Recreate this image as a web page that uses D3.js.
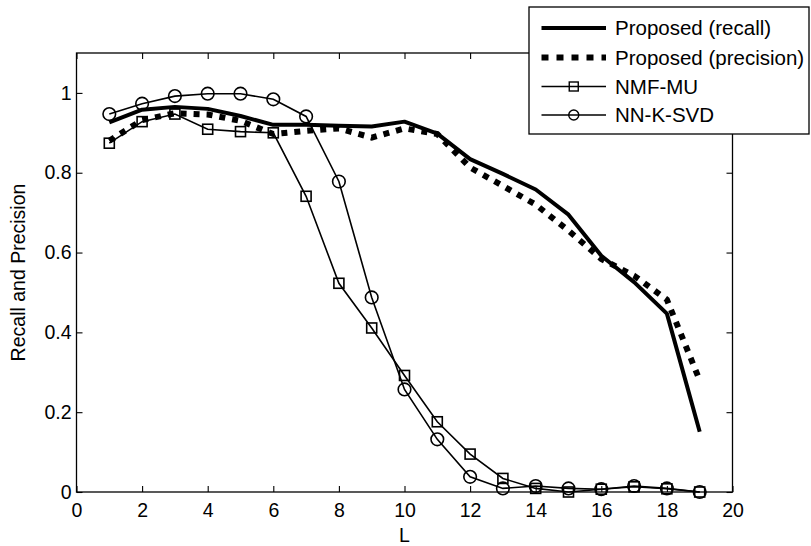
<!DOCTYPE html>
<html>
<head>
<meta charset="utf-8">
<script src="https://cdn.jsdelivr.net/npm/d3@7"></script>
<style>
  body { margin: 0; background: #fff; }
  text { font-family: "Liberation Sans", Arial, sans-serif; fill: #000; }
</style>
</head>
<body>
<div id="graf"></div>
<script>
// Datos
const L = [1, 2, 3, 4, 5, 6, 7, 8, 9, 10, 11, 12, 13, 14, 15, 16, 17, 18, 19]
const recall = [0.926, 0.958, 0.965, 0.96, 0.942, 0.92, 0.92, 0.918, 0.916, 0.928, 0.898, 0.834, 0.797, 0.758, 0.695, 0.592, 0.526, 0.447, 0.151]
const precision = [0.88, 0.932, 0.949, 0.946, 0.93, 0.897, 0.905, 0.911, 0.888, 0.911, 0.897, 0.813, 0.767, 0.72, 0.655, 0.584, 0.542, 0.482, 0.28]
const nmfmu = [0.874, 0.928, 0.947, 0.909, 0.903, 0.9, 0.741, 0.523, 0.411, 0.292, 0.176, 0.095, 0.034, 0.009, 0.0, 0.007, 0.013, 0.008, 0.0]
const nnksvd = [0.947, 0.973, 0.992, 0.998, 0.998, 0.984, 0.941, 0.778, 0.4875, 0.257, 0.132, 0.038, 0.009, 0.015, 0.009, 0.007, 0.015, 0.009, 0.0]
const xTicks = [0, 2, 4, 6, 8, 10, 12, 14, 16, 18, 20]
const yTicks = [0, 0.2, 0.4, 0.6, 0.8, 1]
const legendLabels = ['Proposed (recall)', 'Proposed (precision)', 'NMF-MU', 'NN-K-SVD']

// Dimensiones
const anchoTotal = 811
const altoTotal = 546
const margins = { top: 53, right: 79, bottom: 54, left: 76.5 }
const ancho = 732.5 - margins.left
const alto = 492 - margins.top
const fs = '19.5px'

const svg = d3.select('#graf').append('svg')
    .attr('width', anchoTotal)
    .attr('height', altoTotal)

const g = svg.append('g')
    .attr('transform', `translate(${margins.left}, ${margins.top})`)

// Escaladores
const x = d3.scaleLinear().domain([0, 20]).range([0, ancho])
const y = d3.scaleLinear().domain([0, 1.1]).range([alto, 0])

// Marco
g.append('rect')
    .attr('width', ancho)
    .attr('height', alto)
    .attr('fill', 'none')
    .attr('stroke', '#000')
    .attr('stroke-width', 1.3)

// Ejes (ticks hacia dentro)
const tk = 6
const xAxis = g.append('g').attr('transform', `translate(0, ${alto})`)
    .call(d3.axisBottom(x).tickValues(xTicks).tickFormat(d3.format('d')).tickSizeInner(-tk).tickSizeOuter(0).tickPadding(11))
const xTop = g.append('g')
    .call(d3.axisTop(x).tickValues(xTicks).tickFormat('').tickSizeInner(-tk).tickSizeOuter(0))
const yAxis = g.append('g')
    .call(d3.axisLeft(y).tickValues(yTicks).tickFormat(d => d === 0 || d === 1 ? d : d3.format('.1f')(d)).tickSizeInner(-tk).tickSizeOuter(0).tickPadding(5))
const yRight = g.append('g').attr('transform', `translate(${ancho}, 0)`)
    .call(d3.axisRight(y).tickValues(yTicks).tickFormat('').tickSizeInner(-tk).tickSizeOuter(0))

for (const ax of [xAxis, xTop, yAxis, yRight]) {
    ax.select('.domain').remove()
    ax.selectAll('line').attr('stroke', '#000').attr('stroke-width', 1.1)
    ax.selectAll('text').style('font-family', '"Liberation Sans", Arial, sans-serif').style('font-size', fs).attr('fill', '#000')
}
xAxis.selectAll('text').attr('dy', '0.71em')

// Titulos de ejes
g.append('text')
    .attr('x', ancho / 2)
    .attr('y', alto + 50)
    .attr('text-anchor', 'middle')
    .style('font-size', fs)
    .text('L')

g.append('text')
    .attr('transform', `translate(${18 - margins.left}, ${alto / 2}) rotate(-90)`)
    .attr('text-anchor', 'middle')
    .attr('dy', '0.35em')
    .style('font-size', fs)
    .text('Recall and Precision')

// Lineas
const line = (vals) => d3.line().x((d, i) => x(L[i])).y((d) => y(d))(vals)

g.append('path').attr('d', line(nmfmu))
    .attr('fill', 'none').attr('stroke', '#000').attr('stroke-width', 1.6)
g.append('path').attr('d', line(nnksvd))
    .attr('fill', 'none').attr('stroke', '#000').attr('stroke-width', 1.6)
g.append('path').attr('d', line(recall))
    .attr('fill', 'none').attr('stroke', '#000').attr('stroke-width', 4).attr('stroke-linejoin', 'round')
g.append('path').attr('d', line(precision))
    .attr('fill', 'none').attr('stroke', '#000').attr('stroke-width', 6).attr('stroke-dasharray', '6,7')

// Marcadores
const s = 10
g.selectAll('rect.sq').data(nmfmu).enter().append('rect')
    .attr('class', 'sq')
    .attr('x', (d, i) => x(L[i]) - s / 2)
    .attr('y', (d) => y(d) - s / 2)
    .attr('width', s).attr('height', s)
    .attr('fill', 'none').attr('stroke', '#000').attr('stroke-width', 1.6)

g.selectAll('circle.ci').data(nnksvd).enter().append('circle')
    .attr('class', 'ci')
    .attr('cx', (d, i) => x(L[i]))
    .attr('cy', (d) => y(d))
    .attr('r', 6.3)
    .attr('fill', 'none').attr('stroke', '#000').attr('stroke-width', 1.6)

// Leyenda
const leg = svg.append('g').attr('transform', 'translate(529, 7)')
leg.append('rect')
    .attr('width', 280).attr('height', 127)
    .attr('fill', '#fff').attr('stroke', '#000').attr('stroke-width', 1.3)

const rowY = [21, 50.5, 79.5, 108]
const lx0 = 12.5, lx1 = 77
leg.selectAll('text.lab').data(legendLabels).enter().append('text')
    .attr('x', 86)
    .attr('y', (d, i) => rowY[i])
    .attr('dy', '0.35em')
    .style('font-size', '20.5px')
    .text((d) => d)

leg.append('line').attr('x1', lx0).attr('x2', lx1).attr('y1', rowY[0]).attr('y2', rowY[0])
    .attr('stroke', '#000').attr('stroke-width', 4)
leg.append('line').attr('x1', lx0).attr('x2', lx1).attr('y1', rowY[1]).attr('y2', rowY[1])
    .attr('stroke', '#000').attr('stroke-width', 6).attr('stroke-dasharray', '7,8')
leg.append('line').attr('x1', lx0).attr('x2', lx1).attr('y1', rowY[2]).attr('y2', rowY[2])
    .attr('stroke', '#000').attr('stroke-width', 1.4)
leg.append('rect').attr('x', (lx0 + lx1) / 2 - 4.5).attr('y', rowY[2] - 4.5).attr('width', 9).attr('height', 9)
    .attr('fill', 'none').attr('stroke', '#000').attr('stroke-width', 1.4)
leg.append('line').attr('x1', lx0).attr('x2', lx1).attr('y1', rowY[3]).attr('y2', rowY[3])
    .attr('stroke', '#000').attr('stroke-width', 1.4)
leg.append('circle').attr('cx', (lx0 + lx1) / 2).attr('cy', rowY[3]).attr('r', 5)
    .attr('fill', 'none').attr('stroke', '#000').attr('stroke-width', 1.4)
</script>
</body>
</html>
